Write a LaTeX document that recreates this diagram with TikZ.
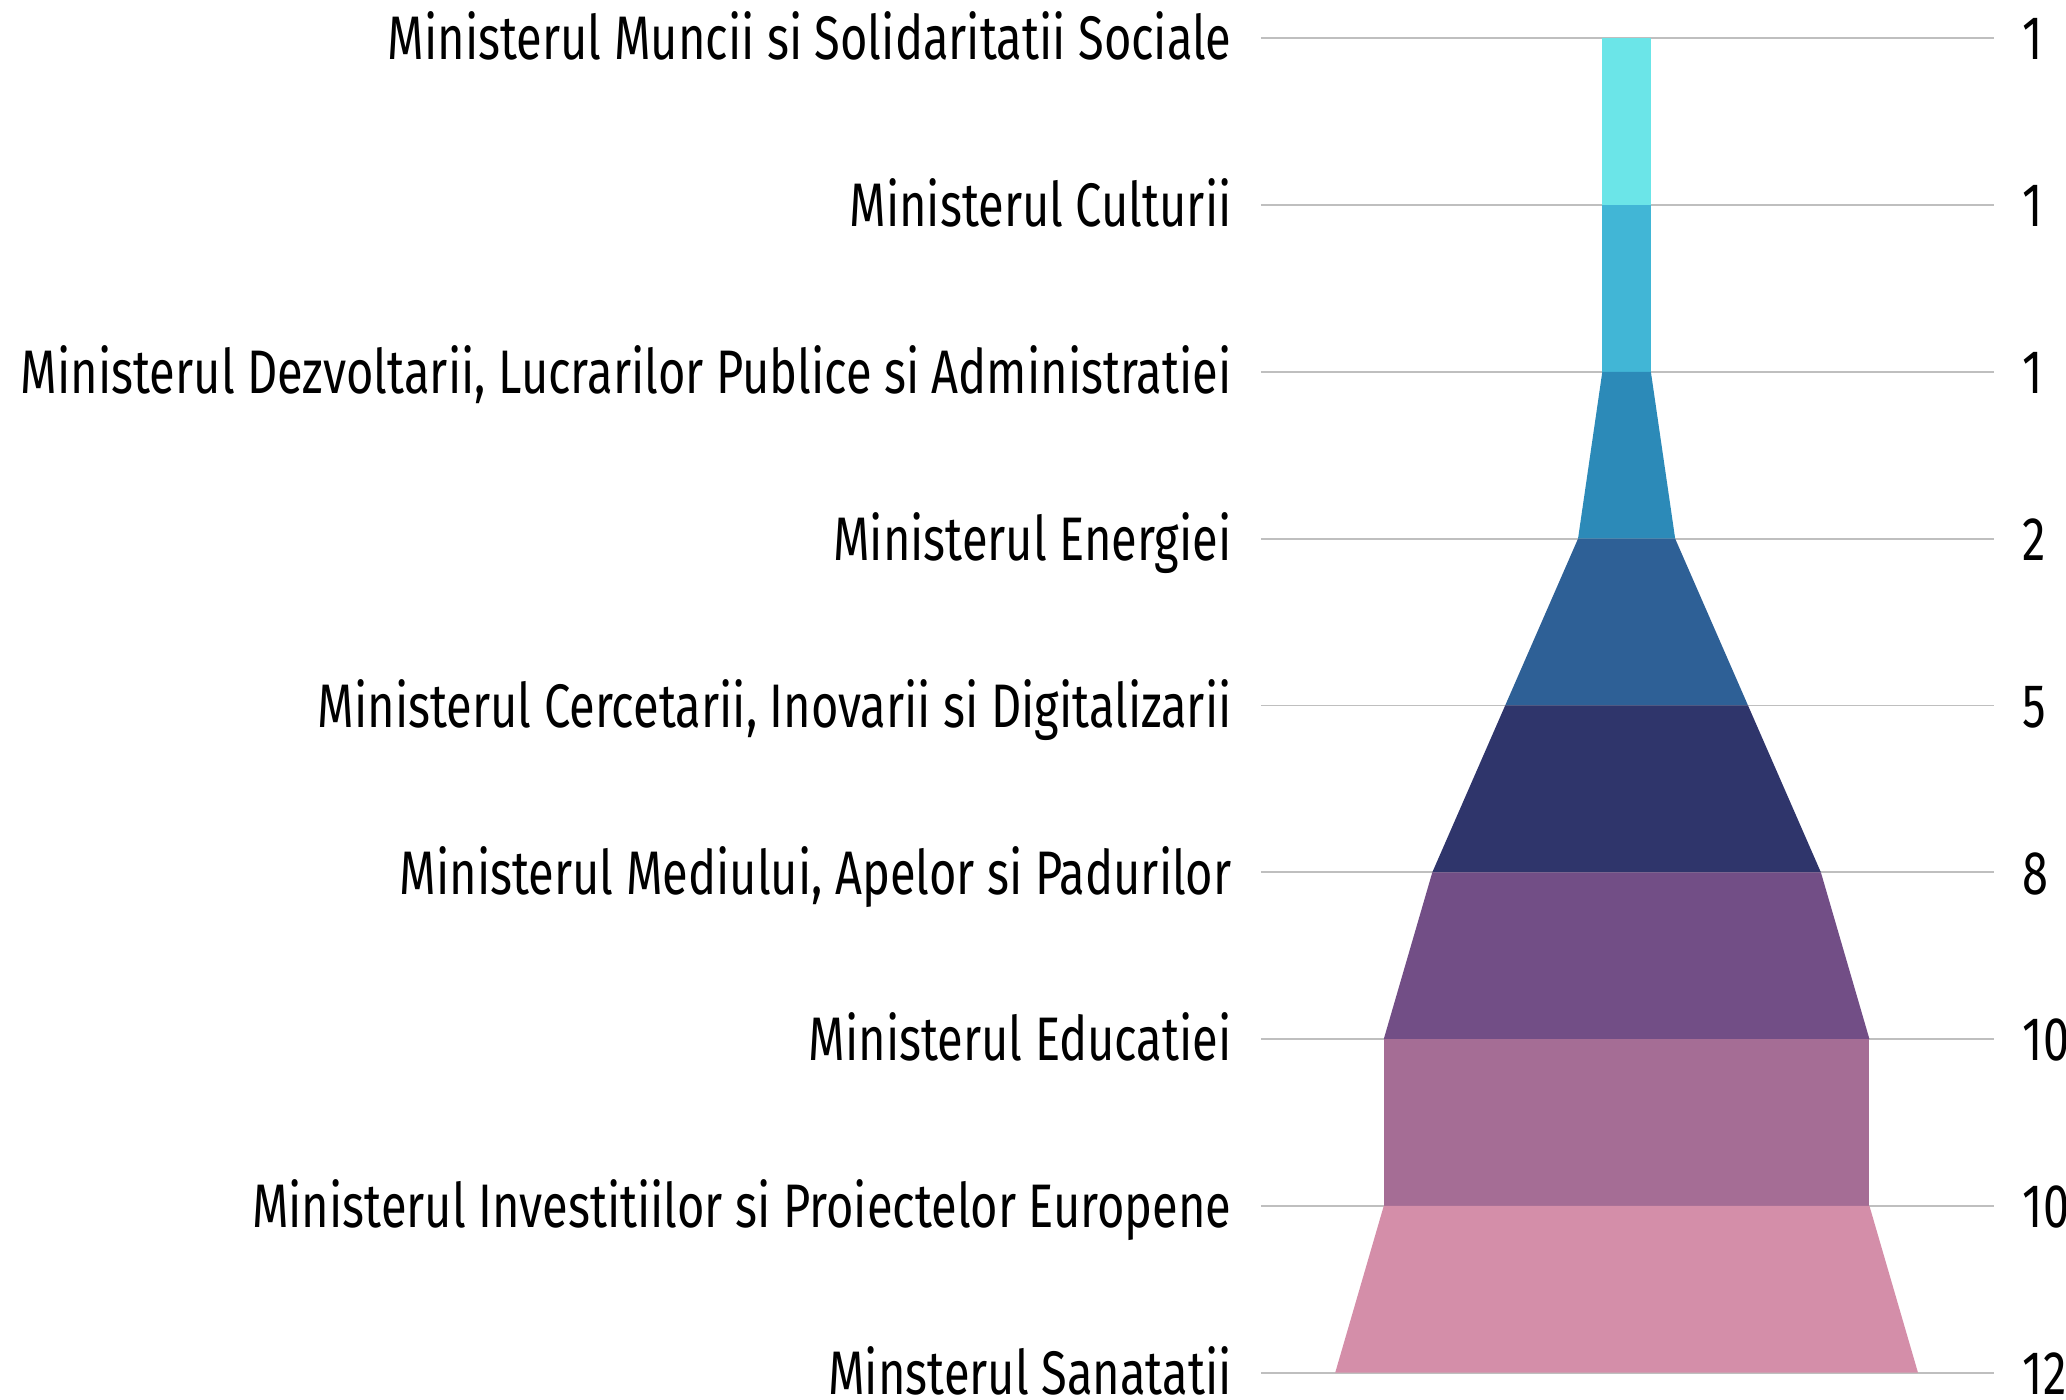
\documentclass[tikz,border=0pt]{standalone}
\usepackage{fontspec}
\setmainfont{Fira Sans}[FakeStretch=0.765]
\definecolor{gridgray}{HTML}{BFBFBF}
\definecolor{c1}{HTML}{6BE5E8}
\definecolor{c2}{HTML}{41B6D6}
\definecolor{c3}{HTML}{2C8AB8}
\definecolor{c4}{HTML}{2E6096}
\definecolor{c5}{HTML}{2F356B}
\definecolor{c6}{HTML}{724E86}
\definecolor{c7}{HTML}{A56D95}
\definecolor{c8}{HTML}{D48EA9}
\begin{document}
\begin{tikzpicture}[x=0.6pt,y=-0.6pt,
  gridline/.style={draw=gridgray,line width=0.8pt},
  lab/.style={anchor=base east,inner sep=0pt,text depth=0pt,font=\fontsize{28}{30}\selectfont},
  val/.style={anchor=base west,inner sep=0pt,text depth=0pt,font=\fontsize{28}{30}\selectfont}]
\useasboundingbox (0,0) rectangle (1568,1062);
\def\cx{1234.5}
\def\hw{18.43}
\def\dy{126.6}
% grid lines
\foreach \i in {1,...,9}{
  \pgfmathsetmacro{\yy}{29+\dy*(\i-1)}
  \coordinate (L\i) at (957,\yy);
  \coordinate (R\i) at (1513,\yy);
  \draw[gridline] (L\i) -- (R\i);
}
% funnel segments
\foreach \k/\a/\b/\col in {1/1/1/c1,2/1/1/c2,3/1/2/c3,4/2/5/c4,5/5/8/c5,6/8/10/c6,7/10/10/c7,8/10/12/c8}{
  \pgfmathsetmacro{\yt}{29+\dy*(\k-1)}
  \pgfmathsetmacro{\yb}{29+\dy*\k}
  \fill[\col] ({\cx-\hw*\a},\yt) -- ({\cx+\hw*\a},\yt) -- ({\cx+\hw*\b},\yb) -- ({\cx-\hw*\b},\yb) -- cycle;
}
% labels
\foreach \i/\t/\v in {
  1/{Ministerul Muncii si Solidaritatii Sociale}/1,
  2/{Ministerul Culturii}/1,
  3/{Ministerul Dezvoltarii, Lucrarilor Publice si Administratiei}/1,
  4/{Ministerul Energiei}/2,
  5/{Ministerul Cercetarii, Inovarii si Digitalizarii}/5,
  6/{Ministerul Mediului, Apelor si Padurilor}/8,
  7/{Ministerul Educatiei}/10,
  8/{Ministerul Investitiilor si Proiectelor Europene}/10,
  9/{Minsterul Sanatatii}/12}{
  \pgfmathsetmacro{\yy}{29+\dy*(\i-1)+16.5}
  \node[lab] (n\i) at (935,\yy) {\t};
  \node[val] (v\i) at (1535,\yy) {\v};
}
\end{tikzpicture}
\end{document}
